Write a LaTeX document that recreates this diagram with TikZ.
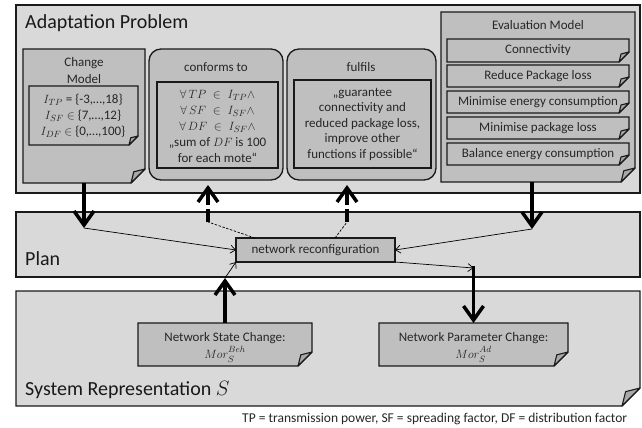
\documentclass[tikz,border=0pt]{standalone}
\usepackage{fontspec}
\setmainfont{Carlito}
\usetikzlibrary{arrows.meta,fit,calc}

\definecolor{panelgray}{HTML}{D9D9D9}
\definecolor{cardgray}{HTML}{BFBFBF}
\definecolor{foldlight}{HTML}{A8A8A8}
\definecolor{edge}{HTML}{1A1A1A}

\tikzset{
  region/.style={fit={#1}, inner sep=0pt, outer sep=0pt},
  panel/.style={draw=edge, fill=panelgray, line width=1.3pt},
  card/.style={draw=edge, fill=cardgray, line width=1.3pt},
  bigarrow/.style={draw=black, line width=3.5pt, -{Straight Barb[length=14pt,width=20pt]}},
  smallarrow/.style={draw=black, line width=0.7pt, -{Straight Barb[length=5pt,width=8pt]}},
  thindash/.style={draw=black, line width=0.7pt, dash pattern=on 2.5pt off 1.5pt},
  label/.style={font=\fontsize{13}{16}\selectfont, align=center, inner sep=0pt, text=black!85},
  heading/.style={font=\fontsize{20}{24}\selectfont, anchor=west, inner sep=0pt, text=black!90},
}

% rectangle with a folded bottom-right corner, drawn over a fitted node
% #1 node, #2 fold size, #3 body fill, #4 fold fill
\newcommand\dogear[4]{%
  \filldraw[draw=edge, fill=#3, line width=1.3pt]
    (#1.north west) -- (#1.north east) -- ([yshift=#2pt]#1.south east)
    -- ([xshift=-#2pt]#1.south east) -- (#1.south west) -- cycle;
  \filldraw[draw=edge, fill=#4, line width=1.1pt, line join=round]
    ([xshift=-#2pt]#1.south east)
    .. controls ([xshift=-0.9*#2pt, yshift=0.4*#2pt]#1.south east) .. ([xshift=-0.8*#2pt, yshift=0.8*#2pt]#1.south east)
    -- ([yshift=#2pt]#1.south east) -- cycle;
}
% morphism symbol with separated sub- and superscript
\newcommand\morph[1]{$Mor_{\lower1.2pt\hbox{$\scriptstyle S$}}^{\raise1.2pt\hbox{$\scriptstyle #1$}}$}

\begin{document}
\begin{tikzpicture}[x=1pt,y=-1pt]
\useasboundingbox (0,0) rectangle (642,428);

% ---------- Adaptation Problem ----------
\node[region={(16,5) (640,193)}, panel] (ap) {};
\node[heading] (apt) at (25,23) {Adaptation Problem};

% change model
\node[region={(23,49) (145,183)}] (cm) {};
\dogear{cm}{14}{cardgray}{foldlight}
\node[label, font=\fontsize{13}{17}\selectfont] (cmt) at (84,70.5) {Change\\Model};
\node[region={(29,86) (138,145)}] (cmi) {};
\dogear{cmi}{9}{cardgray}{foldlight}
\node[label] (cmx) at (83,116) {$I_{TP}$ = \{-3,…,18\}\\$I_{SF}$ $\in$ \{7,…,12\}\\$I_{DF}$ $\in$ \{0,…,100\}};

% conforms to
\node[region={(149,49) (283,180)}, card, rounded corners=12pt] (conf) {};
\node[label] (conft) at (216,67) {conforms to};
\node[region={(157,82) (278,168)}, card] (confi) {};
\node[label] (confx) at (217.5,126) {$\forall\,TP\;\in\;I_{TP}\wedge$\\$\forall\,SF\;\in\;I_{SF}\wedge$\\$\forall\,DF\;\in\;I_{SF}\wedge$\\„sum of $DF$ is 100\\for each mote“};

% fulfils
\node[region={(287,49) (436,180)}, card, rounded corners=12pt] (fulf) {};
\node[label] (fulft) at (361,67) {fulfils};
\node[region={(294,80) (431,168)}, card] (fulfi) {};
\node[label, font=\fontsize{13}{15.5}\selectfont] (fulfx) at (362.5,124) {„guarantee\\connectivity and\\reduced package loss,\\improve other\\functions if possible“};

% evaluation model
\node[region={(441,12) (635,182)}] (eval) {};
\dogear{eval}{14}{cardgray}{foldlight}
\node[label] (evalt) at (538,25) {Evaluation Model};
\node[region={(447,39) (629,62)}] (e1) {};
\dogear{e1}{10}{cardgray}{foldlight}
\node[label] at (e1.center) (e1t) {Connectivity};
\node[region={(447,65) (629,87)}] (e2) {};
\dogear{e2}{10}{cardgray}{foldlight}
\node[label] at (e2.center) (e2t) {Reduce Package loss};
\node[region={(447,91) (629,113)}] (e3) {};
\dogear{e3}{10}{cardgray}{foldlight}
\node[label] at (e3.center) (e3t) {Minimise energy consumption};
\node[region={(447,117) (629,139)}] (e4) {};
\dogear{e4}{10}{cardgray}{foldlight}
\node[label] at (e4.center) (e4t) {Minimise package loss};
\node[region={(447,143) (629,165)}] (e5) {};
\dogear{e5}{10}{cardgray}{foldlight}
\node[label] at (e5.center) (e5t) {Balance energy consumption};

% ---------- Plan ----------
\node[region={(16,212) (640,277)}, panel] (plan) {};
\node[heading] (plant) at (25,259) {Plan};
\node[region={(236,238) (395,262)}, card] (nr) {};
\node[label, font=\fontsize{13}{15}\selectfont] (nrt) at (nr.center) {network reconfiguration};

% ---------- System Representation ----------
\node[region={(16,291) (640,406)}] (sys) {};
\dogear{sys}{18}{panelgray}{foldlight}
\node[heading] (syst) at (25,390) {System Representation $S$};
\node[region={(138,323) (312,366)}] (nsc) {};
\dogear{nsc}{14}{cardgray}{foldlight}
\node[label, anchor=base] (nsct) at (225,341) {Network State Change:};
\node[label, anchor=base] (nscm) at (225,358) {\morph{Beh}};
\node[region={(379,323) (568,366)}] (npc) {};
\dogear{npc}{14}{cardgray}{foldlight}
\node[label, anchor=base] (npct) at (473.5,341) {Network Parameter Change:};
\node[label, anchor=base] (npcm) at (473.5,358) {\morph{Ad}};

\node[anchor=west, inner sep=0pt, font=\fontsize{13.5}{16}\selectfont, text=black!85] (note) at (242,419)
  {TP = transmission power, SF = spreading factor, DF = distribution factor};

% ---------- connectors ----------
\coordinate (j1) at (84,228);
\coordinate (j2) at (208,222);
\coordinate (t2) at (208,185);
\coordinate (j3) at (347,222);
\coordinate (t3) at (347,185);
\coordinate (j4) at (532,229);
\coordinate (j5) at (473.5,268);
\coordinate (j6) at (225,278);

\draw[smallarrow] (j1) -- (nr.west);
\draw[smallarrow] (j4) -- (nr.east);
\draw[thindash] ([xshift=19pt]nr.north west) -- (j2);
\draw[thindash] ([xshift=-60pt]nr.north east) -- (j3);
\draw[smallarrow] (nr.south east) -- (j5);
\draw[smallarrow] (j6) -- (nr.south west);

\draw[bigarrow] (cm.south) -- (j1);
\draw[bigarrow] (eval.south -| j4) -- (j4);
\draw[bigarrow, dash pattern=on 13pt off 4pt on 40pt off 0pt] (j2) -- (t2);
\draw[bigarrow, dash pattern=on 13pt off 4pt on 40pt off 0pt] (j3) -- (t3);
\draw[bigarrow] ([yshift=2pt]j5) -- (npc.north);
\draw[bigarrow] (nsc.north) -- (j6);
\end{tikzpicture}
\end{document}
